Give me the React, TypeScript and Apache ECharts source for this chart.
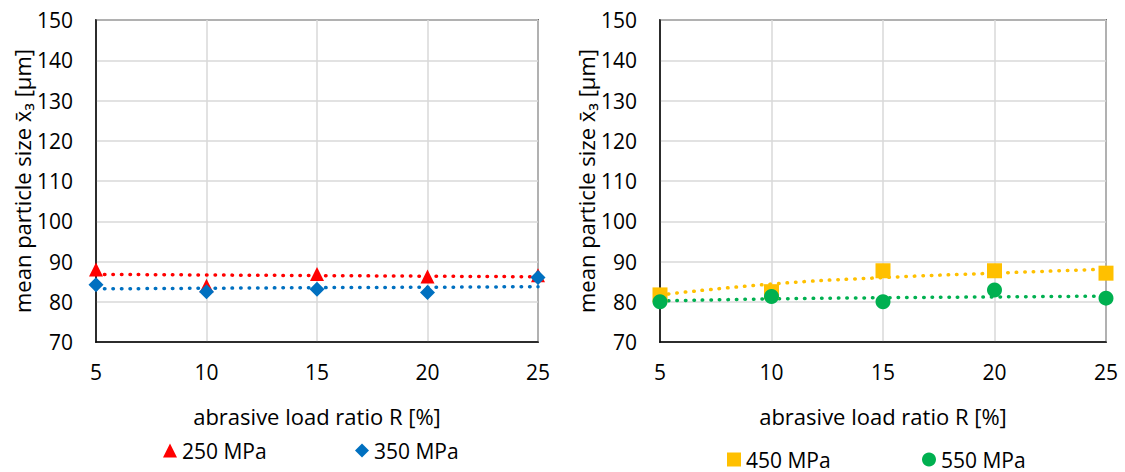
import React, { useEffect, useRef } from "react";
import * as echarts from "echarts";

const xValues = [5, 10, 15, 20, 25];
const mpa250 = [88.0, 84.0, 86.9, 86.3, 86.6];
const mpa350 = [84.2, 82.5, 83.1, 82.3, 86.0];
const mpa450 = [81.7, 82.5, 87.7, 87.7, 87.1];
const mpa550 = [80.0, 81.3, 80.0, 82.9, 80.9];
const trend250 = [86.8, 86.65, 86.5, 86.35, 86.2];
const trend350 = [83.2, 83.35, 83.5, 83.6, 83.75];
const trend450 = [81.7, 84.4, 86.0, 87.1, 88.1];
const trend550 = [80.2, 80.7, 81.0, 81.2, 81.4];
const yTicks = { min: 70, max: 150, interval: 10 };
const xTicks = { min: 5, max: 25, interval: 5 };
const xName = "abrasive load ratio R [%]";
const yName = "mean particle size x\u0304\u2083 [µm]";
const names = ["250 MPa", "350 MPa", "450 MPa", "550 MPa"];

const FONT = "Open Sans";
const pair = (ys: number[]) => xValues.map((x, i) => [x, ys[i]]);

export default function App() {
  const ref = useRef<HTMLDivElement>(null);
  useEffect(() => {
    const chart = echarts.init(ref.current!, null, { renderer: "svg" });
    const grids = [
      { left: 96, top: 20, width: 442, height: 322 },
      { left: 660, top: 20, width: 446, height: 322 },
    ].map((g) => ({ ...g, show: true, borderColor: "#000", borderWidth: 1.5, backgroundColor: "transparent" }));
    const xAxis = [0, 1].map((i) => ({
      type: "value",
      gridIndex: i,
      ...xTicks,
      name: xName,
      nameLocation: "middle",
      nameGap: 63,
      nameTextStyle: { fontFamily: FONT, fontSize: 22, color: "#000" },
      axisLine: { show: true, lineStyle: { color: "#000", width: 1.5 } },
      axisTick: { show: false },
      axisLabel: { fontFamily: FONT, fontSize: 21, color: "#000", margin: 19 },
      splitLine: { show: true, lineStyle: { color: "#d9d9d9", width: 1.5 } },
    }));
    const yAxis = [0, 1].map((i) => ({
      type: "value",
      gridIndex: i,
      ...yTicks,
      name: yName,
      nameLocation: "middle",
      nameGap: 63,
      nameTextStyle: { fontFamily: FONT, fontSize: 22, color: "#000" },
      axisLine: { show: true, lineStyle: { color: "#000", width: 1.5 } },
      axisTick: { show: false },
      axisLabel: { fontFamily: FONT, fontSize: 21, color: "#000", margin: 23 },
      splitLine: { show: true, lineStyle: { color: "#d9d9d9", width: 1.5 } },
    }));
    const trend = (data: number[], color: string, i: number) => ({
      type: "line",
      xAxisIndex: i,
      yAxisIndex: i,
      data: pair(data),
      smooth: true,
      showSymbol: false,
      silent: true,
      lineStyle: { color, width: 3.5, type: [0.5, 8], cap: "round" },
      z: 2,
    });
    const scatter = (name: string, data: number[], color: string, symbol: string, size: number, i: number, z: number) => ({
      type: "scatter",
      name,
      xAxisIndex: i,
      yAxisIndex: i,
      data: pair(data),
      symbol,
      symbolSize: size,
      itemStyle: { color, opacity: 1 },
      z,
    });
    const legend = (name: string, left: number, top: number) => ({
      data: [name],
      left,
      top,
      orient: "horizontal",
      itemWidth: 14,
      itemHeight: 14,
      itemGap: 6,
      padding: 0,
      textStyle: { fontFamily: FONT, fontSize: 21, color: "#000" },
      selectedMode: false,
    });
    chart.setOption({
      animation: false,
      backgroundColor: "#fff",
      textStyle: { fontFamily: FONT },
      grid: grids,
      xAxis,
      yAxis,
      legend: [
        legend(names[0], 163, 440),
        legend(names[1], 355, 440),
        legend(names[2], 727, 449),
        legend(names[3], 922, 449),
      ],
      series: [
        trend(trend250, "#ff0000", 0),
        trend(trend350, "#0070c0", 0),
        scatter(names[0], mpa250, "#ff0000", "triangle", 14, 0, 3),
        scatter(names[1], mpa350, "#0070c0", "diamond", 15, 0, 4),
        trend(trend450, "#ffc000", 1),
        trend(trend550, "#00b050", 1),
        scatter(names[2], mpa450, "#ffc000", "rect", 15, 1, 3),
        scatter(names[3], mpa550, "#00b050", "circle", 15, 1, 4),
      ],
    });
    return () => chart.dispose();
  }, []);
  return <div ref={ref} style={{ position: "fixed", left: 0, top: 0, width: 1125, height: 472 }} />;
}
